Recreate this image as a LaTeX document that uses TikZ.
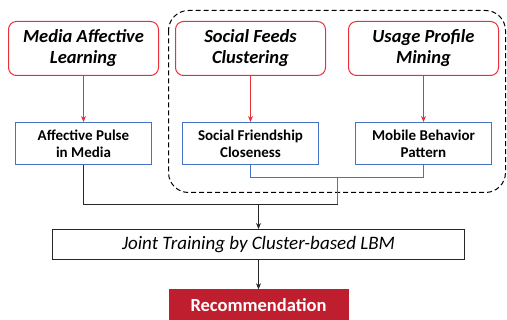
\documentclass[tikz,border=0pt]{standalone}
\usepackage{fontspec}
\setmainfont{Carlito}
\usetikzlibrary{arrows.meta}
\definecolor{boxred}{HTML}{E8303A}
\definecolor{boxblue}{HTML}{4472C4}
\definecolor{recred}{HTML}{BE1E2D}
\begin{document}
\begin{tikzpicture}[x=1pt,y=-1pt,
	task/.style={draw=boxred, line width=1pt, rounded corners=8pt, minimum width=150pt, minimum height=54pt, align=center, font=\fontsize{18.5}{21}\selectfont\bfseries\itshape},
	feature/.style={draw=boxblue, line width=1pt, minimum width=136pt, minimum height=42pt, align=center, font=\fontsize{15}{17}\selectfont\bfseries},
	redarrow/.style={draw=boxred, line width=0.8pt, -{Stealth[length=6pt,width=5pt]}},
	blueline/.style={draw=boxblue, line width=1pt},
	blackline/.style={draw=black!85, line width=1pt},
	blackarrow/.style={blackline, -{Stealth[length=6pt,width=5pt]}}]
	\useasboundingbox (0,0) rectangle (507,320);
	\draw[dash pattern=on 5pt off 3pt, line width=1pt, rounded corners=20pt] (168.5,10.5) rectangle (505.5,192.5);
	\node[task] (media) at (83.5,48.5) {Media Affective\\Learning};
	\node[task] (social) at (250.5,48.5) {Social Feeds\\Clustering};
	\node[task] (usage) at (423.5,48.5) {Usage Profile\\Mining};
	\node[feature] (pulse) at (83.5,143.5) {Affective Pulse\\in Media};
	\node[feature] (friend) at (250.5,143.5) {Social Friendship\\Closeness};
	\node[feature] (mobile) at (423.5,143.5) {Mobile Behavior\\Pattern};
	\node[draw=black!85, line width=1pt, minimum width=412pt, minimum height=30pt, font=\fontsize{19}{22}\selectfont\itshape] (joint) at (258.5,244.5) {Joint Training by Cluster-based LBM};
	\node[fill=recred, text=white, minimum width=180pt, minimum height=31pt, font=\fontsize{18.5}{21}\selectfont\bfseries] (rec) at (258.5,305) {Recommendation};
	\coordinate (fm) at (337.5,177.5);
	\coordinate (merge) at (337.5,204.5);
	\draw[redarrow] (media) -- (pulse);
	\draw[redarrow] (social) -- (friend);
	\draw[redarrow] (usage) -- (mobile);
	\draw[blueline] (friend.south) |- (fm) -| (mobile.south);
	\draw[blueline] (fm) -- (merge);
	\draw[blackline] (pulse.south) |- (merge);
	\draw[blackarrow] (joint.north |- merge) -- (joint.north);
	\draw[blackarrow] (joint) -- (rec);
\end{tikzpicture}
\end{document}
